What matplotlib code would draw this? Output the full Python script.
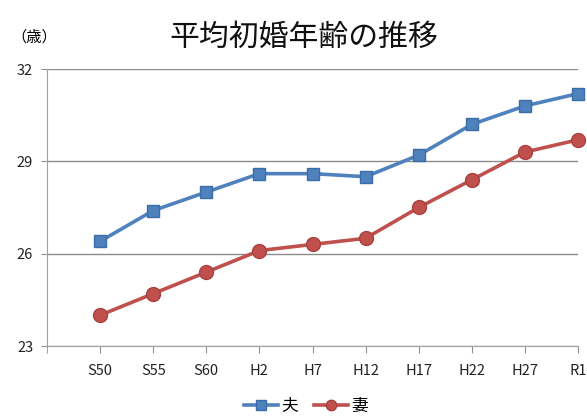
import matplotlib
matplotlib.use('Agg')
import matplotlib.pyplot as plt
from matplotlib.ticker import FixedLocator

plt.rcParams['font.family'] = ['Noto Sans CJK JP', 'DejaVu Sans']

years = ['S50', 'S55', 'S60', 'H2', 'H7', 'H12', 'H17', 'H22', 'H27', 'R1']
husband = [26.4, 27.4, 28.0, 28.6, 28.6, 28.5, 29.2, 30.2, 30.8, 31.2]
wife = [24.0, 24.7, 25.4, 26.1, 26.3, 26.5, 27.5, 28.4, 29.3, 29.7]
yticks = [23, 26, 29, 32]

fig = plt.figure(figsize=(5.87, 4.19), dpi=100)
ax = fig.add_axes([47 / 587, 1 - 346 / 419, (578 - 47) / 587, (346 - 69) / 419])

x = list(range(len(years)))
ax.plot(x, husband, color='#4F81BD', linewidth=2.6, marker='s', markersize=9,
        markerfacecolor='#4F81BD', markeredgecolor='#3A6EA8', label='夫', clip_on=False, zorder=3)
ax.plot(x, wife, color='#C0504D', linewidth=2.6, marker='o', markersize=10,
        markerfacecolor='#C0504D', markeredgecolor='#A8403D', label='妻', clip_on=False, zorder=3)

ax.set_xlim(-1, 9)
ax.set_ylim(23, 32)
ax.set_yticks(yticks)
ax.set_yticklabels([str(v) for v in yticks], fontsize=10.5, color='#222222')
ax.set_xticks(x)
ax.set_xticklabels(years, fontsize=10.5, color='#222222')
ax.xaxis.set_minor_locator(FixedLocator([-1]))
ax.tick_params(axis='x', which='both', length=5, color='#909090', pad=8)
ax.tick_params(axis='y', length=4, color='#909090', pad=6)

ax.grid(axis='y', color='#8C8C8C', linewidth=1.0)
ax.set_axisbelow(True)
for s in ['top', 'right']:
    ax.spines[s].set_visible(False)
ax.spines['left'].set_color('#A0A0A0')
ax.spines['bottom'].set_color('#A0A0A0')

fig.text(304 / 587, 1 - 37 / 419, '平均初婚年齢の推移', fontsize=21.5,
         ha='center', va='center', color='#111111')
fig.text(34 / 587, 1 - 37 / 419, '（歳）', fontsize=11, ha='center', va='center')

fig.legend(loc='center', bbox_to_anchor=(306 / 587, 1 - 406 / 419), ncol=2, frameon=False,
           fontsize=12, handlelength=2.0, columnspacing=1.0, handletextpad=0.2, markerscale=0.75)

fig.savefig('out.png', dpi=100, facecolor='white')
